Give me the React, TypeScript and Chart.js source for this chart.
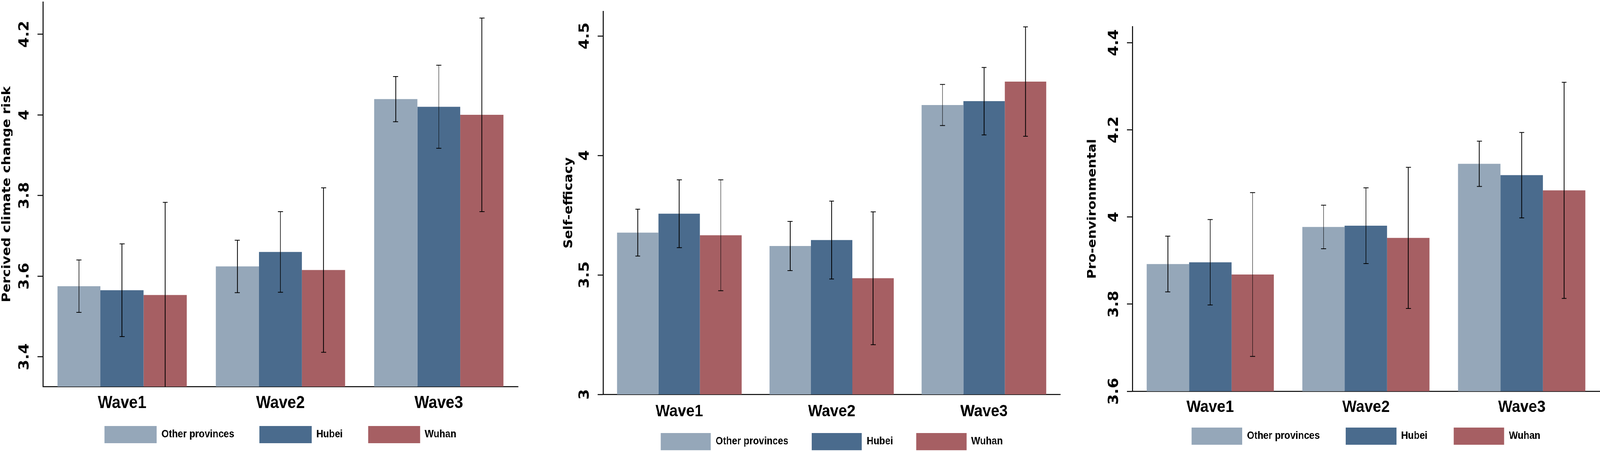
import React, { useEffect, useRef } from 'react';
import { Chart, registerables, Plugin } from 'chart.js';
Chart.register(...registerables);

const waves = ['Wave1', 'Wave2', 'Wave3'];
const groups = ['Other provinces', 'Hubei', 'Wuhan'];
const groupColors = ['#95a7b9', '#4a6b8d', '#a65f63'];

// Percived climate change risk (means and half-width of the error bars)
const riskOther = [3.575, 3.624, 4.039];
const riskHubei = [3.565, 3.66, 4.02];
const riskWuhan = [3.553, 3.615, 4.0];
const riskOtherErr = [0.065, 0.065, 0.056];
const riskHubeiErr = [0.115, 0.1, 0.103];
const riskWuhanErr = [0.23, 0.204, 0.24];
const riskTicks = [3.4, 3.6, 3.8, 4, 4.2];

// Self-efficacy
const efficacyOther = [3.677, 3.621, 4.211];
const efficacyHubei = [3.756, 3.646, 4.227];
const efficacyWuhan = [3.666, 3.486, 4.309];
const efficacyOtherErr = [0.098, 0.103, 0.086];
const efficacyHubeiErr = [0.142, 0.163, 0.141];
const efficacyWuhanErr = [0.232, 0.278, 0.229];
const efficacyTicks = [3, 3.5, 4, 4.5];

// Pro-environmental
const proEnvOther = [3.892, 3.977, 4.122];
const proEnvHubei = [3.896, 3.98, 4.096];
const proEnvWuhan = [3.868, 3.952, 4.061];
const proEnvOtherErr = [0.064, 0.05, 0.052];
const proEnvHubeiErr = [0.098, 0.087, 0.098];
const proEnvWuhanErr = [0.188, 0.162, 0.248];
const proEnvTicks = [3.6, 3.8, 4, 4.2, 4.4];

const fmt = (v: number) => `${Number(v.toFixed(2))}`;

// mean +/- error whiskers on top of each bar
const errorBars: Plugin<'bar'> = {
  id: 'errorBars',
  afterDatasetsDraw(chart) {
    const { ctx, chartArea } = chart;
    const yScale = chart.scales.y;
    ctx.save();
    ctx.beginPath();
    ctx.rect(chartArea.left, chartArea.top, chartArea.width, chartArea.height);
    ctx.clip();
    ctx.strokeStyle = '#000';
    ctx.lineWidth = 2;
    chart.data.datasets.forEach((ds: any, i) => {
      chart.getDatasetMeta(i).data.forEach((bar: any, j) => {
        const hi = yScale.getPixelForValue(ds.data[j] + ds.errors[j]);
        const lo = yScale.getPixelForValue(ds.data[j] - ds.errors[j]);
        ctx.beginPath();
        ctx.moveTo(bar.x, hi);
        ctx.lineTo(bar.x, lo);
        ctx.moveTo(bar.x - 7, hi);
        ctx.lineTo(bar.x + 7, hi);
        ctx.moveTo(bar.x - 7, lo);
        ctx.lineTo(bar.x + 7, lo);
        ctx.stroke();
      });
    });
    ctx.restore();
  },
};

// y tick labels turned to read upwards, centred on their tick
const uprightTicks = (offset: number, size: number): Plugin<'bar'> => ({
  id: 'uprightTicks',
  afterDraw(chart) {
    const { ctx, chartArea } = chart;
    const yScale = chart.scales.y;
    ctx.save();
    ctx.fillStyle = '#000';
    ctx.font = `bold ${size}px "DejaVu Sans"`;
    ctx.textAlign = 'center';
    ctx.textBaseline = 'middle';
    yScale.ticks.forEach((t) => {
      ctx.save();
      ctx.translate(chartArea.left - offset, yScale.getPixelForValue(t.value));
      ctx.rotate(-Math.PI / 2);
      ctx.fillText(fmt(t.value), 0, 0);
      ctx.restore();
    });
    ctx.restore();
  },
});

interface PanelProps {
  left: number;
  width: number;
  title: string;
  means: number[][];
  errs: number[][];
  ticks: number[];
  min: number;
  max: number;
  yWidth: number;
  xHeight: number;
  xPad: number;
  padTop: number;
  padBottom: number;
  padRight: number;
  titleOffset: number;
  legendPad: number;
  boxWidth: number;
  xFont: number;
}

const Panel: React.FC<PanelProps> = (p) => {
  const canvasRef = useRef<HTMLCanvasElement>(null);

  useEffect(() => {
    if (!canvasRef.current) return;
    const chart = new Chart(canvasRef.current, {
      type: 'bar',
      data: {
        labels: waves,
        datasets: groups.map((g, i) => ({
          label: g,
          data: p.means[i],
          errors: p.errs[i],
          backgroundColor: groupColors[i],
          borderWidth: 0,
          categoryPercentage: 0.817,
          barPercentage: 1.0,
        })) as any,
      },
      options: {
        responsive: false,
        animation: false,
        devicePixelRatio: 1,
        layout: { padding: { top: p.padTop, bottom: p.padBottom, left: 0, right: p.padRight } },
        scales: {
          x: {
            grid: { display: false, drawTicks: false },
            border: { display: true, color: '#000', width: 2.5 },
            ticks: {
              color: '#000',
              mirror: true, // keeps the labels from being clipped to the thin axis box
              padding: p.xPad,
              font: { family: 'Liberation Sans', size: p.xFont, weight: 'bold' },
            },
            afterFit: (s: any) => {
              s.height = p.xHeight;
              s.paddingLeft = 0;
              s.paddingRight = 0;
            },
          },
          y: {
            min: p.min,
            max: p.max,
            beginAtZero: false,
            grid: { display: true, drawOnChartArea: false, drawTicks: true, tickLength: 15, tickColor: '#000', tickWidth: 2.5 },
            border: { display: true, color: '#000', width: 2.5 },
            afterBuildTicks: (s: any) => {
              s.ticks = p.ticks.map((value) => ({ value }));
            },
            ticks: { display: false },
            title: {
              display: true,
              text: p.title,
              color: '#000',
              padding: { top: p.titleOffset, bottom: 0 },
              font: { family: 'DejaVu Sans', size: 34, weight: 'bold' },
            },
            afterFit: (s: any) => {
              s.width = p.yWidth;
              s.paddingTop = 0;
              s.paddingBottom = 0;
            },
          },
        },
        plugins: {
          legend: {
            position: 'bottom',
            fullSize: false,
            labels: {
              boxWidth: p.boxWidth,
              boxHeight: 44,
              padding: p.legendPad,
              color: '#000',
              font: { family: 'Liberation Sans', size: 27, weight: 'bold' },
            },
          },
          tooltip: { enabled: false },
        },
      },
      plugins: [errorBars, uprightTicks(51, 39)],
    });
    return () => chart.destroy();
  }, [p]);

  return (
    <canvas
      ref={canvasRef}
      width={p.width}
      height={1155}
      style={{ position: 'absolute', left: p.left, top: 0, width: p.width, height: 1155, display: 'block' }}
    />
  );
};

const riskPanel: PanelProps = {
  left: 0, width: 1500, title: 'Percived climate change risk',
  means: [riskOther, riskHubei, riskWuhan], errs: [riskOtherErr, riskHubeiErr, riskWuhanErr],
  ticks: riskTicks, min: 3.326, max: 4.28,
  yWidth: 122, xHeight: 29, xPad: -69, padTop: 5, padBottom: 10, padRight: 27,
  titleOffset: 0, legendPad: 72, boxWidth: 148, xFont: 44,
};

const efficacyPanel: PanelProps = {
  left: 1520, width: 1510, title: 'Self-efficacy',
  means: [efficacyOther, efficacyHubei, efficacyWuhan], errs: [efficacyOtherErr, efficacyHubeiErr, efficacyWuhanErr],
  ticks: efficacyTicks, min: 3, max: 4.603,
  yWidth: 195, xHeight: 33, xPad: -70, padTop: 29, padBottom: -8, padRight: 15,
  titleOffset: 78, legendPad: 66, boxWidth: 143, xFont: 43,
};

const proEnvPanel: PanelProps = {
  left: 3030, width: 1520, title: 'Pro-environmental',
  means: [proEnvOther, proEnvHubei, proEnvWuhan], errs: [proEnvOtherErr, proEnvHubeiErr, proEnvWuhanErr],
  ticks: proEnvTicks, min: 3.6, max: 4.437,
  yWidth: 190, xHeight: 19, xPad: -67, padTop: 68, padBottom: 6, padRight: 1,
  titleOffset: 57, legendPad: 74, boxWidth: 144, xFont: 43,
};

export default function App() {
  useEffect(() => {
    document.body.style.margin = '0';
  }, []);
  // the figure is laid out at 4550x1155 and fitted to whatever the window really offers
  const sx = window.innerWidth / 4550;
  const sy = window.innerHeight / 1155;
  return (
    <div style={{ position: 'fixed', left: 0, top: 0, width: '100vw', height: '100vh', overflow: 'hidden', background: '#fff' }}>
      <div
        style={{
          position: 'absolute', left: 0, top: 0, width: 4550, height: 1155,
          transform: `scale(${sx}, ${sy})`, transformOrigin: '0 0',
        }}
      >
        <Panel {...riskPanel} />
        <Panel {...efficacyPanel} />
        <Panel {...proEnvPanel} />
      </div>
    </div>
  );
}
